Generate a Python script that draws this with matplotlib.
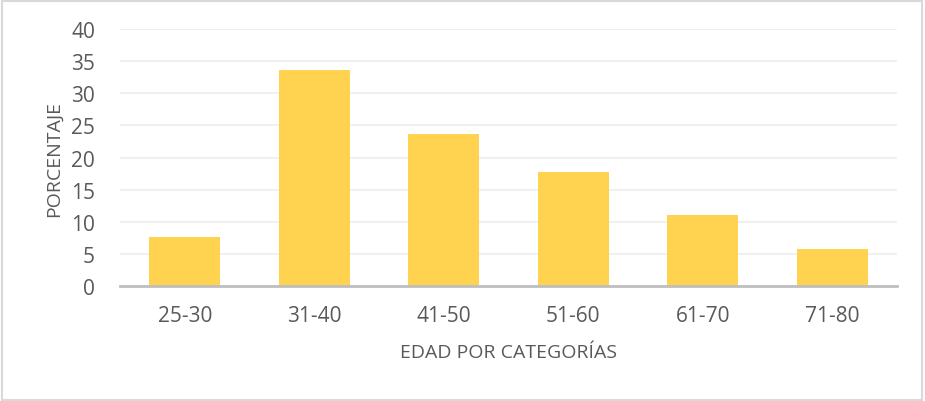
import numpy as np
import matplotlib.pyplot as plt

# DATOS
categorias = ["25-30", "31-40", "41-50", "51-60", "61-70", "71-80"]
porcentajes = [7.7, 33.6, 23.6, 17.7, 11.1, 5.8]
yticks = [0, 5, 10, 15, 20, 25, 30, 35, 40]

plt.rcParams['font.family'] = ['Open Sans', 'DejaVu Sans']
gris = "#595959"

fig = plt.figure(figsize=(9.25, 4.02), dpi=100)
ax = fig.add_axes([0.1297, 0.286, 0.84, 0.639])

x = np.arange(len(categorias))
ax.bar(x, porcentajes, width=0.55, color="#FFD24F", zorder=3)

ax.set_xlim(-0.5, len(categorias) - 0.5)
ax.set_ylim(0, 40)
ax.set_yticks(yticks)
ax.set_xticks(x)
ax.set_xticklabels(categorias)
ax.tick_params(axis="both", length=0, colors=gris, labelsize=15)
ax.tick_params(axis="x", pad=14)
ax.tick_params(axis="y", pad=18)

# CUADRÍCULA
ax.grid(axis="y", color="#EDEDED", linewidth=1.2, zorder=0)
for s in ["top", "right", "left"]:
    ax.spines[s].set_visible(False)
ax.spines["bottom"].set_color("#BFBFBF")
ax.spines["bottom"].set_linewidth(2)
ax.spines["bottom"].set_zorder(4)

ax.set_xlabel("EDAD POR CATEGORÍAS", color=gris, fontsize=14, labelpad=12)
ax.set_ylabel("PORCENTAJE", color=gris, fontsize=14, labelpad=6)

# MARCO
fig.patches.append(plt.Rectangle((0.002, 0.003), 0.995, 0.993, transform=fig.transFigure,
                                 fill=False, edgecolor="#D9D9D9", linewidth=1.5))

fig.savefig("out.png", dpi=100)
